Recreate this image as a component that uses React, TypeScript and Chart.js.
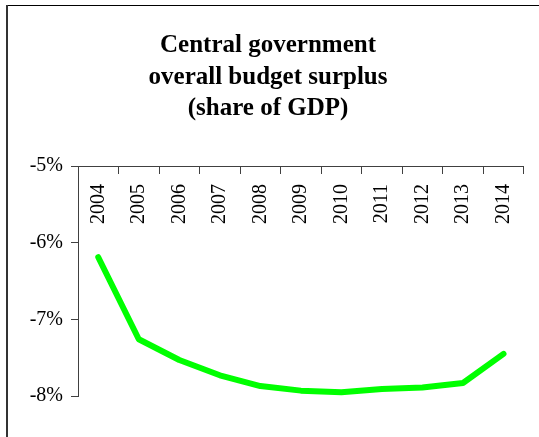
import React, { useEffect, useRef } from "react";
import { Chart, registerables } from "chart.js";

Chart.register(...registerables);

const years = ["2004", "2005", "2006", "2007", "2008", "2009", "2010", "2011", "2012", "2013", "2014"];
const surplus = [-6.19, -7.26, -7.53, -7.73, -7.87, -7.93, -7.95, -7.91, -7.89, -7.83, -7.45];
const titleLines = ["Central government", "overall budget surplus", "(share of GDP)"];

const FONT = "'Liberation Serif', 'Times New Roman', serif";

const framePlugin = {
  id: "frame",
  beforeDraw(chart: any) {
    const ctx = chart.ctx;
    ctx.save();
    ctx.fillStyle = "#fff";
    ctx.fillRect(0, 0, chart.width, chart.height);
    ctx.strokeStyle = "#000";
    ctx.lineWidth = 1;
    ctx.beginPath();
    ctx.moveTo(7, 5.5);
    ctx.lineTo(chart.width, 5.5);
    ctx.stroke();
    ctx.strokeStyle = "#333";
    ctx.lineWidth = 2;
    ctx.beginPath();
    ctx.moveTo(7, 5);
    ctx.lineTo(7, chart.height);
    ctx.stroke();
    ctx.restore();
  },
  afterDraw(chart: any) {
    const ctx = chart.ctx;
    ctx.save();
    ctx.fillStyle = "#000";
    ctx.font = `bold 25px ${FONT}`;
    ctx.textAlign = "center";
    ctx.textBaseline = "middle";
    titleLines.forEach((line, i) => {
      ctx.fillText(line, 268, 46 + i * 31.5);
    });
    ctx.restore();
  },
};

export default function App() {
  const ref = useRef<HTMLCanvasElement | null>(null);
  useEffect(() => {
    const chart = new Chart(ref.current as HTMLCanvasElement, {
      type: "line",
      data: {
        labels: years,
        datasets: [
          {
            data: surplus,
            borderColor: "#00ff00",
            backgroundColor: "#00ff00",
            borderWidth: 6,
            pointRadius: 0,
            borderCapStyle: "round",
            borderJoinStyle: "round",
            tension: 0,
          },
        ],
      },
      options: {
        animation: false,
        responsive: false,
        events: [],
        layout: { padding: { left: 0, right: 11, top: 166, bottom: 41 } },
        plugins: {
          legend: { display: false },
          tooltip: { enabled: false },
          title: { display: false },
        },
        scales: {
          x: {
            type: "category",
            position: { y: -5 } as any,
            offset: true,
            grid: {
              offset: true,
              drawOnChartArea: false,
              drawTicks: true,
              tickLength: 7,
              color: "#404040",
            },
            border: { display: true, color: "#404040", width: 1 },
            ticks: {
              color: "#000",
              font: { family: FONT, size: 20 },
              minRotation: 90,
              maxRotation: 90,
              padding: 11,
              autoSkip: false,
            },
          },
          y: {
            min: -8,
            max: -5,
            afterFit(scale: any) {
              scale.width = 78;
            },
            grid: {
              drawOnChartArea: false,
              drawTicks: true,
              tickLength: 7,
              color: "#404040",
            },
            border: { display: true, color: "#404040", width: 1 },
            ticks: {
              stepSize: 1,
              color: "#000",
              font: { family: FONT, size: 20 },
              padding: 8,
              callback: (v: any) => `${v}%`,
            },
          },
        },
      },
      plugins: [framePlugin],
    });
    return () => chart.destroy();
  }, []);
  return (
    <div style={{ position: "fixed", left: 0, top: 0, width: 539, height: 437, overflow: "hidden" }}>
      <canvas ref={ref} width={539} height={437} style={{ display: "block", width: 539, height: 437 }} />
    </div>
  );
}
